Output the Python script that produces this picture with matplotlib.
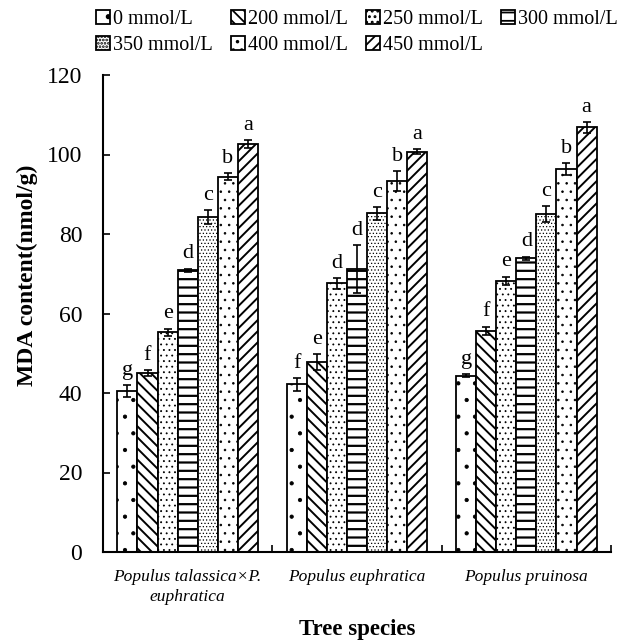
import matplotlib
matplotlib.use('Agg')
import matplotlib.pyplot as plt
import numpy as np

plt.rcParams['font.family'] = ['Liberation Serif', 'DejaVu Serif']
plt.rcParams['hatch.linewidth'] = 1.3

species = ['Populus talassica×P.\neuphratica', 'Populus euphratica', 'Populus pruinosa']
treatments = ['0 mmol/L', '200 mmol/L', '250 mmol/L', '300 mmol/L',
              '350 mmol/L', '400 mmol/L', '450 mmol/L']

mda_0 = [40.5, 42.2, 44.4]
mda_200 = [45.0, 47.7, 55.6]
mda_250 = [55.3, 67.6, 68.2]
mda_300 = [70.9, 71.2, 73.9]
mda_350 = [84.2, 85.2, 85.0]
mda_400 = [94.4, 93.4, 96.4]
mda_450 = [102.6, 100.7, 106.8]

err_0 = [1.4, 1.6, 0.4]
err_200 = [0.8, 2.0, 1.1]
err_250 = [0.9, 1.4, 1.1]
err_300 = [0.4, 6.0, 0.4]
err_350 = [1.8, 1.6, 2.1]
err_400 = [0.9, 2.5, 1.5]
err_450 = [1.0, 0.6, 1.3]

let_0 = ['g', 'f', 'g']
let_200 = ['f', 'e', 'f']
let_250 = ['e', 'd', 'e']
let_300 = ['d', 'd', 'd']
let_350 = ['c', 'c', 'c']
let_400 = ['b', 'b', 'b']
let_450 = ['a', 'a', 'a']

values = [mda_0, mda_200, mda_250, mda_300, mda_350, mda_400, mda_450]
errors = [err_0, err_200, err_250, err_300, err_350, err_400, err_450]
letters = [let_0, let_200, let_250, let_300, let_350, let_400, let_450]
hatches = ['.', '\\\\\\', '...', '--', '.....', '..', '///']
hatch_lw = [0.6, 1.4, 0.6, 1.6, 0.5, 0.6, 1.4]

fig = plt.figure(figsize=(6.35, 6.4), dpi=100)
ax = fig.add_axes([103/635, 1-552/640, 508/635, 477/640])

x = np.arange(len(species))
w = 0.1186
handles = []
for i, (vals, errs, lets, h, hl, lab) in enumerate(zip(values, errors, letters, hatches, hatch_lw, treatments)):
    pos = x + (i - 3) * w
    with plt.rc_context({'hatch.linewidth': hl}):
        b = ax.bar(pos, vals, w, facecolor='white', edgecolor='black', linewidth=1.3,
                   hatch=h, label=lab, zorder=2)
    for p in b.patches:
        if hasattr(p, 'set_hatch_linewidth'):
            p.set_hatch_linewidth(hl)
    ax.errorbar(pos, vals, yerr=errs, fmt='none', ecolor='black', elinewidth=1.2,
                capsize=3, capthick=1.2, zorder=3)
    for p, v, e, l in zip(pos, vals, errs, lets):
        ax.text(p, v + e + 1.3, l, ha='center', va='bottom', fontsize=16)
    handles.append(b)

ax.set_xlim(-0.5, 2.5)
ax.set_ylim(0, 120)
ax.set_yticks(np.arange(0, 121, 20))
ax.set_xticks(x)
ax.set_xticklabels(species, fontsize=12.5, style='italic', linespacing=1.35)
ax.set_xticks([0.5, 1.5, 2.5], minor=True)
ax.tick_params(axis='x', which='major', length=0, pad=12)
ax.tick_params(axis='x', which='minor', direction='in', length=5, width=1.2)
ax.tick_params(axis='y', direction='in', length=5, width=1.2, labelsize=17, pad=15)
for s in ['top', 'right']:
    ax.spines[s].set_visible(False)
for s in ['left', 'bottom']:
    ax.spines[s].set_linewidth(1.5)

ax.set_ylabel('MDA content(nmol/g)', fontsize=17, fontweight='bold')
ax.yaxis.set_label_coords(-0.128, 0.58)
ax.set_xlabel('Tree species', fontsize=16.5, fontweight='bold')
ax.xaxis.set_label_coords(0.5, -0.14)

order = [0, 4, 1, 5, 2, 6, 3]
fig.legend([handles[k] for k in order], [treatments[k] for k in order],
           ncol=4, loc='upper left', bbox_to_anchor=(96/635, 1-10/640),
           frameon=False, fontsize=14.5, handlelength=0.7, handleheight=0.7,
           handletextpad=0.15, columnspacing=0.9, labelspacing=0.35,
           borderpad=0, borderaxespad=0)

fig.savefig('out.png', dpi=100)
